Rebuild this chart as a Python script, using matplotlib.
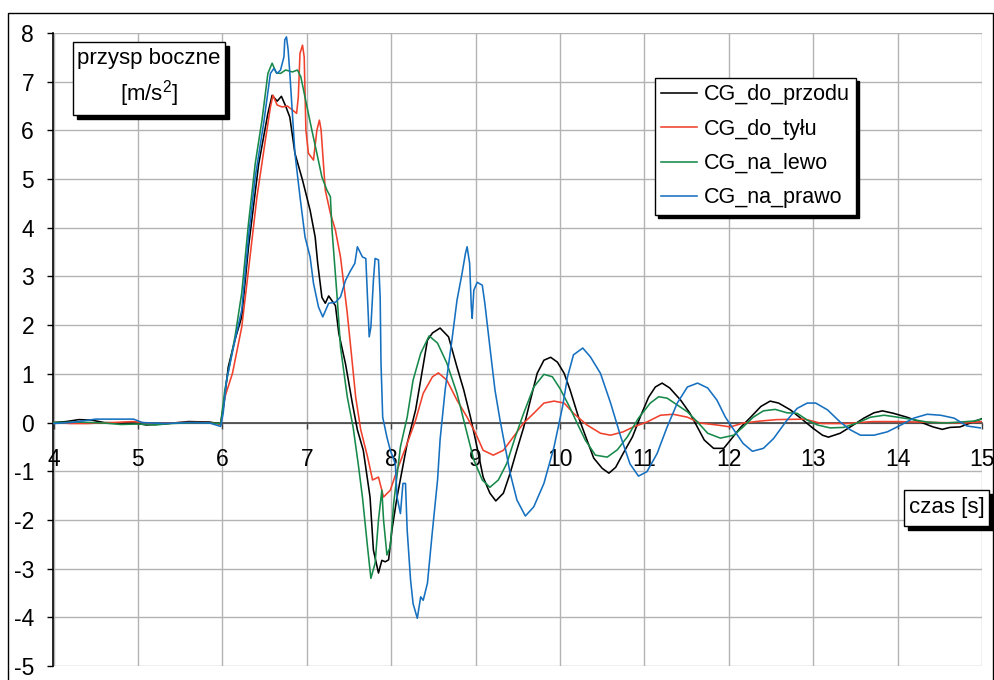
import matplotlib
matplotlib.use("Agg")
import matplotlib.pyplot as plt
from matplotlib.patches import Rectangle

plt.rcParams['font.family'] = ['Liberation Sans', 'DejaVu Sans']
plt.rcParams['axes.unicode_minus'] = False
plt.rcParams['mathtext.fontset'] = 'custom'
plt.rcParams['mathtext.rm'] = 'Liberation Sans'

# czas [s] / przyspieszenie boczne [m/s2] dla czterech polozen srodka ciezkosci
t_przod = [4.0, 4.15, 4.3, 4.45, 4.6, 4.8, 5.0, 5.1, 5.3, 5.6, 5.85, 5.98, 6.02, 6.07, 6.15,
           6.23, 6.31, 6.43, 6.54, 6.59, 6.65, 6.70, 6.75, 6.80, 6.86, 6.95, 7.04, 7.10, 7.13,
           7.18, 7.22, 7.26, 7.30, 7.34, 7.38, 7.46, 7.54, 7.60, 7.67, 7.75, 7.79, 7.85, 7.89,
           7.93, 7.97, 8.01, 8.07, 8.13, 8.19, 8.29, 8.35, 8.43, 8.49, 8.58, 8.68, 8.78, 8.86,
           8.94, 9.00, 9.09, 9.17, 9.24, 9.33, 9.41, 9.49, 9.57, 9.65, 9.73, 9.81, 9.89, 9.97,
           10.05, 10.12, 10.22, 10.32, 10.40, 10.50, 10.58, 10.66, 10.75, 10.86, 10.95, 11.05,
           11.13, 11.21, 11.30, 11.43, 11.54, 11.63, 11.71, 11.82, 11.94, 12.02, 12.14, 12.26,
           12.38, 12.49, 12.59, 12.73, 12.88, 13.0, 13.11, 13.18, 13.32, 13.44, 13.6, 13.72,
           13.82, 13.95, 14.11, 14.27, 14.42, 14.53, 14.62, 14.74, 14.86, 15.0]
a_przod = [0.0, 0.02, 0.06, 0.05, 0.0, -0.01, -0.02, -0.05, -0.03, 0.02, 0.01, -0.03, 0.4, 1.14, 1.7,
           2.17, 3.6, 5.3, 6.35, 6.72, 6.6, 6.7, 6.5, 6.27, 5.53, 4.98, 4.36, 3.81, 3.27,
           2.57, 2.45, 2.6, 2.5, 2.4, 1.83, 1.2, 0.40, -0.15, -0.57, -1.53, -2.62, -3.09, -2.83,
           -2.86, -2.82, -2.2, -1.53, -0.98, -0.43, 0.26, 0.87, 1.69, 1.84, 1.94, 1.76, 1.14, 0.67,
           0.11, -0.36, -1.12, -1.45, -1.61, -1.45, -1.04, -0.56, -0.1, 0.46, 1.01, 1.28, 1.34, 1.24,
           1.01, 0.67, 0.11, -0.36, -0.73, -0.94, -1.04, -0.92, -0.63, -0.29, 0.11, 0.52,
           0.73, 0.81, 0.71, 0.46, 0.19, -0.1, -0.36, -0.53, -0.53, -0.36, -0.1, 0.11,
           0.33, 0.44, 0.40, 0.26, 0.05, -0.12, -0.26, -0.3, -0.22, -0.09, 0.09, 0.2,
           0.24, 0.19, 0.11, 0.01, -0.09, -0.14, -0.1, -0.09, -0.01, 0.08]

t_tyl = [4.0, 4.2, 4.4, 4.7, 4.95, 5.2, 5.5, 5.8, 5.98, 6.03, 6.12, 6.23, 6.31, 6.41, 6.51,
         6.57, 6.60, 6.65, 6.71, 6.77, 6.83, 6.88, 6.90, 6.92, 6.95, 6.97, 6.99, 7.02, 7.08,
         7.12, 7.15, 7.17, 7.22, 7.28, 7.34, 7.40, 7.48, 7.54, 7.58, 7.64, 7.72, 7.78, 7.85,
         7.91, 7.99, 8.07, 8.19, 8.29, 8.38, 8.49, 8.56, 8.66, 8.78, 8.90, 9.0, 9.09, 9.21,
         9.33, 9.45, 9.57, 9.69, 9.81, 9.93, 10.05, 10.16, 10.32, 10.48, 10.60, 10.75, 10.87,
         11.03, 11.19, 11.34, 11.51, 11.66, 11.86, 12.02, 12.17, 12.37, 12.57, 12.9, 13.1,
         13.4, 13.7, 14.0, 14.5, 14.8, 15.0]
a_tyl = [0.0, -0.02, -0.02, 0.0, 0.02, -0.03, 0.0, 0.0, -0.03, 0.52, 1.01, 1.96, 3.13, 4.63, 5.80,
         6.48, 6.72, 6.52, 6.48, 6.50, 6.42, 6.35, 6.68, 7.58, 7.75, 7.51, 6.01, 5.53, 5.39,
         6.0, 6.21, 6.01, 4.77, 4.30, 3.95, 3.4, 2.25, 1.22, 0.52, -0.15, -0.7, -1.18, -1.12,
         -1.53, -1.39, -0.98, -0.43, 0.05, 0.6, 0.94, 1.02, 0.87, 0.46, 0.11, -0.22, -0.57, -0.67,
         -0.57, -0.29, -0.01, 0.19, 0.40, 0.44, 0.40, 0.19, -0.05, -0.22, -0.26, -0.19, -0.09,
         0.01, 0.15, 0.17, 0.11, -0.01, -0.05, -0.09, -0.01, 0.03, 0.06, 0.07, -0.02,
         -0.02, 0.02, 0.02, 0.0, -0.01, 0.02]

t_lewo = [4.0, 4.3, 4.6, 4.8, 5.0, 5.2, 5.4, 5.7, 5.98, 6.03, 6.15, 6.23, 6.31, 6.39, 6.47,
          6.54, 6.59, 6.64, 6.69, 6.75, 6.83, 6.89, 6.93, 6.98, 7.06, 7.12, 7.18, 7.24, 7.28,
          7.30, 7.36, 7.40, 7.48, 7.55, 7.61, 7.66, 7.72, 7.76, 7.81, 7.85, 7.89, 7.91, 7.95,
          7.99, 8.03, 8.11, 8.19, 8.26, 8.35, 8.45, 8.55, 8.66, 8.78, 8.88, 8.98, 9.08, 9.17,
          9.27, 9.37, 9.47, 9.57, 9.69, 9.81, 9.91, 10.0, 10.12, 10.20, 10.30, 10.42, 10.56,
          10.68, 10.80, 10.93, 11.07, 11.17, 11.27, 11.39, 11.51, 11.63, 11.75, 11.90, 12.06,
          12.17, 12.29, 12.41, 12.55, 12.69, 12.81, 12.93, 13.05, 13.2, 13.36, 13.52, 13.68,
          13.84, 14.0, 14.15, 14.35, 14.54, 14.74, 14.9, 15.0]
a_lewo = [0.0, 0.01, -0.01, -0.04, -0.03, -0.05, -0.02, 0.0, -0.02, 0.67, 1.76, 2.66, 4.09, 5.32, 6.21,
          7.17, 7.38, 7.18, 7.17, 7.24, 7.20, 7.24, 7.10, 6.68, 6.01, 5.53, 5.04, 4.77, 4.64,
          3.95, 2.58, 1.55, 0.53, -0.1, -0.85, -1.53, -2.55, -3.2, -2.89, -2.0, -1.39, -2.0, -2.72,
          -2.55, -1.66, -0.5, 0.11, 0.87, 1.42, 1.78, 1.63, 1.22, 0.60, -0.09, -0.77, -1.18, -1.33,
          -1.18, -0.84, -0.3, 0.19, 0.73, 0.99, 0.94, 0.7, 0.3, 0.0, -0.36, -0.67, -0.71,
          -0.56, -0.29, 0.09, 0.40, 0.53, 0.50, 0.36, 0.22, 0.01, -0.22, -0.32, -0.26,
          -0.09, 0.11, 0.24, 0.27, 0.2, 0.19, 0.05, -0.05, -0.11, -0.1, -0.01, 0.11,
          0.15, 0.11, 0.07, 0.01, -0.01, 0.01, 0.03, 0.07]

t_prawo = [4.0, 4.2, 4.5, 4.95, 5.05, 5.3, 5.6, 5.85, 5.98, 6.01, 6.05, 6.15, 6.23, 6.31, 6.39,
           6.49, 6.57, 6.61, 6.65, 6.69, 6.73, 6.74, 6.76, 6.78, 6.80, 6.83, 6.86, 6.92, 6.98,
           7.04, 7.08, 7.14, 7.19, 7.26, 7.34, 7.40, 7.46, 7.51, 7.57, 7.60, 7.62, 7.66, 7.70,
           7.72, 7.74, 7.76, 7.79, 7.81, 7.85, 7.87, 7.88, 7.90, 7.95, 7.99, 8.05, 8.07, 8.11,
           8.14, 8.17, 8.19, 8.23, 8.26, 8.31, 8.35, 8.38, 8.43, 8.49, 8.55, 8.58, 8.64, 8.72,
           8.78, 8.84, 8.88, 8.90, 8.93, 8.95, 8.96, 8.98, 9.02, 9.08, 9.11, 9.17, 9.23, 9.29,
           9.35, 9.41, 9.49, 9.59, 9.69, 9.81, 9.93, 10.03, 10.09, 10.16, 10.27, 10.36, 10.48,
           10.60, 10.72, 10.83, 10.93, 11.03, 11.15, 11.27, 11.39, 11.51, 11.63, 11.75, 11.86,
           11.96, 12.06, 12.17, 12.28, 12.41, 12.53, 12.69, 12.81, 12.93, 13.03, 13.17, 13.32,
           13.44, 13.56, 13.72, 13.88, 14.04, 14.19, 14.35, 14.51, 14.67, 14.82, 14.98]
a_prawo = [-0.02, 0.0, 0.07, 0.07, 0.0, -0.02, 0.0, -0.01, -0.08, 0.19, 0.87, 1.69, 2.31, 3.81, 5.04,
           6.15, 7.17, 7.27, 7.17, 7.24, 7.51, 7.86, 7.92, 7.65, 7.17, 6.35, 5.53, 4.64, 3.81,
           3.4, 2.86, 2.37, 2.17, 2.45, 2.47, 2.58, 2.92, 3.09, 3.27, 3.61, 3.54, 3.40, 3.37,
           2.58, 1.76, 1.96, 2.92, 3.37, 3.34, 2.58, 1.22, 0.11, -0.30, -0.57, -0.85, -1.53, -1.87,
           -1.25, -1.25, -2.21, -3.23, -3.72, -4.02, -3.58, -3.65, -3.30, -2.21, -1.18, -0.35, 0.67, 1.69,
           2.51, 3.06, 3.47, 3.61, 3.27, 2.37, 2.14, 2.72, 2.88, 2.82, 2.45, 1.55, 0.67, 0.05,
           -0.5, -1.04, -1.59, -1.92, -1.73, -1.25, -0.5, 0.32, 0.94, 1.39, 1.53, 1.35, 1.01,
           0.40, -0.29, -0.85, -1.1, -1.01, -0.64, -0.09, 0.40, 0.73, 0.81, 0.71, 0.46,
           0.11, -0.15, -0.43, -0.59, -0.53, -0.33, 0.05, 0.29, 0.40, 0.40, 0.26, 0.01,
           -0.15, -0.26, -0.26, -0.19, -0.05, 0.09, 0.17, 0.15, 0.09, -0.07, -0.11]

serie = [
    (t_przod, a_przod, 'CG_do_przodu', '#000000'),
    (t_tyl, a_tyl, 'CG_do_tyłu', '#f0412d'),
    (t_lewo, a_lewo, 'CG_na_lewo', '#17894a'),
    (t_prawo, a_prawo, 'CG_na_prawo', '#1670c0'),
]

W, H = 995, 680
fig = plt.figure(figsize=(W / 100, H / 100), dpi=100)
ax = fig.add_axes([53.5 / W, 1 - 666 / H, (982 - 53.5) / W, (666 - 33) / H])


def fx(px):
    return px / W


def fy(py):
    return 1 - py / H


# ramka calego wykresu
fig.add_artist(Rectangle((fx(8), -0.01), fx(993) - fx(8), fy(13) + 0.01,
                         transform=fig.transFigure, fill=False, edgecolor='black', lw=1.0))

for t, a, nazwa, kolor in serie:
    ax.plot(t, a, color=kolor, lw=1.15, label=nazwa, zorder=3)

ax.set_xlim(4, 15)
ax.set_ylim(-5, 8)
ax.set_xticks(range(4, 16))
ax.set_yticks(range(-5, 9))
ax.grid(True, color='#b3b3b3', lw=1.0, zorder=0)
ax.set_axisbelow(True)

ax.spines['top'].set_visible(False)
ax.spines['right'].set_visible(False)
ax.spines['bottom'].set_position(('data', 0))
ax.spines['bottom'].set_color('#404040')
ax.spines['bottom'].set_linewidth(1.2)
ax.spines['left'].set_linewidth(1.2)
ax.tick_params(axis='x', direction='out', length=4, width=1, color='#404040', pad=14, labelsize=16.5)
ax.tick_params(axis='y', direction='out', length=4, width=1, pad=10, labelsize=16.5)


def ramka(x0, y0, x1, y1, tekst, size=16):
    fig.add_artist(Rectangle((fx(x0 + 4), fy(y1 + 4)), fx(x1) - fx(x0), fy(y0) - fy(y1),
                             transform=fig.transFigure, facecolor='black', edgecolor='black', zorder=5))
    fig.add_artist(Rectangle((fx(x0), fy(y1)), fx(x1) - fx(x0), fy(y0) - fy(y1),
                             transform=fig.transFigure, facecolor='white', edgecolor='black',
                             lw=1.0, zorder=6))
    fig.text(fx((x0 + x1) / 2), fy((y0 + y1) / 2), tekst, ha='center', va='center',
             fontsize=size, linespacing=1.4, zorder=7)


ramka(73, 42, 225, 115, 'przysp boczne\n[m/s$^2$]')
ramka(904, 490, 989, 526, 'czas [s]')

leg = ax.legend(loc='upper left', bbox_to_anchor=(fx(655), fy(78)), bbox_transform=fig.transFigure,
                fontsize=15.5, frameon=True, fancybox=False, edgecolor='black', framealpha=1,
                borderpad=0.3, handlelength=1.65, handletextpad=0.3, labelspacing=0.62,
                borderaxespad=0, shadow={'facecolor': 'black', 'edgecolor': 'black', 'alpha': 1})
leg.get_frame().set_linewidth(1.0)

fig.savefig('out.png', dpi=100)
